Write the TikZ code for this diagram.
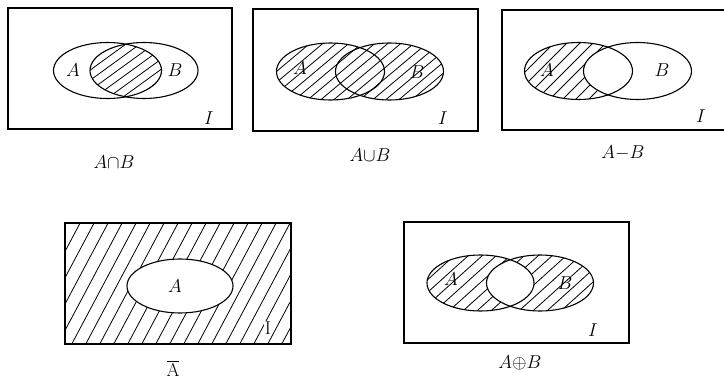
\documentclass[tikz,border=0pt]{standalone}
\usepackage{tikz}
\usepackage{amsmath}
\usetikzlibrary{positioning}

% parallel hatch lines: #1 = horizontal spacing, #2 = angle
\newcommand{\hatchlines}[2]{%
  \foreach \k in {0,...,150}
    \draw[hatch] ({-700+\k*#1},400) -- ++({400/tan(#2)},-400);%
}

\begin{document}
\begin{tikzpicture}[
    x=1pt, y=-1pt,
    frame/.style={
        draw=black,
        line width=1.6pt
    },
    setline/.style={
        draw=black,
        line width=1.1pt
    },
    hatch/.style={
        draw=black,
        line width=0.8pt
    },
    setname/.style={
        font=\LARGE,
        scale=1.08,
        inner sep=0pt
    },
    caption/.style={
        font=\LARGE,
        scale=1.08,
        inner sep=0pt
    }
]
\useasboundingbox (0,0) rectangle (724,382);

% Intersection
\begin{scope}
    \clip (107.5,70.5) ellipse [x radius=54, y radius=28];
    \clip (144,70.5) ellipse [x radius=54, y radius=28];
    \hatchlines{14}{36}
\end{scope}
\draw[frame] (8,8) rectangle (232,129);
\draw[setline] (107.5,70.5) ellipse [x radius=54, y radius=28];
\draw[setline] (144,70.5) ellipse [x radius=54, y radius=28];
\node[setname] (capA) at (73,70) {$A$};
\node[setname] (capB) at (175,70) {$B$};
\node[setname] (capI) at (209,118) {$I$};
\node[caption] (capcap) at (114,162) {$A{\cap}B$};

% Union
\begin{scope}
    \clip (330.5,71.5) ellipse [x radius=54, y radius=28.5]
          (389.5,71.5) ellipse [x radius=54, y radius=28.5];
    \hatchlines{13}{40}
\end{scope}
\draw[frame] (253,9) rectangle (478,131);
\draw[setline] (330.5,71.5) ellipse [x radius=54, y radius=28.5];
\draw[setline] (389.5,71.5) ellipse [x radius=54, y radius=28.5];
\node[setname] (cupA) at (300,68) {$A$};
\node[setname] (cupB) at (417,72) {$B$};
\node[setname] (cupI) at (443,118) {$I$};
\node[caption] (cupcap) at (370,155) {$A{\cup}B$};

% Difference
\begin{scope}[even odd rule]
    \clip (578.5,71) ellipse [x radius=54, y radius=28.5];
    \clip (502,10) rectangle (730,130)
          (637.5,71) ellipse [x radius=54, y radius=28.5];
    \hatchlines{13}{45}
\end{scope}
\draw[frame] (502,10) rectangle (730,130);
\draw[setline] (578.5,71) ellipse [x radius=54, y radius=28.5];
\draw[setline] (637.5,71) ellipse [x radius=54, y radius=28.5];
\node[setname] (difA) at (547,70) {$A$};
\node[setname] (difB) at (662,70) {$B$};
\node[setname] (difI) at (701,116) {$I$};
\node[caption] (difcap) at (623,153) {$A{-}B$};

% Complement
\begin{scope}[even odd rule]
    \clip (65,223) rectangle (291,344)
          (180,286) ellipse [x radius=53, y radius=27];
    \hatchlines{14}{62}
\end{scope}
\draw[frame] (65,223) rectangle (291,344);
\draw[setline] (180,286) ellipse [x radius=53, y radius=27];
\node[setname, fill=white] (comA) at (175,286) {$A$};
\node[setname, fill=white, inner sep=1pt] (comI) at (268,328) {$\mathrm{I}$};
\node[caption] (comcap) at (173,368) {$\overline{\mathrm{A}}$};

% Symmetric difference
\begin{scope}[even odd rule]
    \clip (480.5,283) ellipse [x radius=53.5, y radius=28]
          (540,283) ellipse [x radius=53.5, y radius=28];
    \hatchlines{14}{42}
\end{scope}
\draw[frame] (404,222) rectangle (629,343);
\draw[setline] (480.5,283) ellipse [x radius=53.5, y radius=28];
\draw[setline] (540,283) ellipse [x radius=53.5, y radius=28];
\node[setname] (symA) at (451,279) {$A$};
\node[setname] (symB) at (565,283) {$B$};
\node[setname] (symI) at (593,330) {$I$};
\node[caption] (symcap) at (520,363) {$A{\oplus}B$};

\end{tikzpicture}
\end{document}
